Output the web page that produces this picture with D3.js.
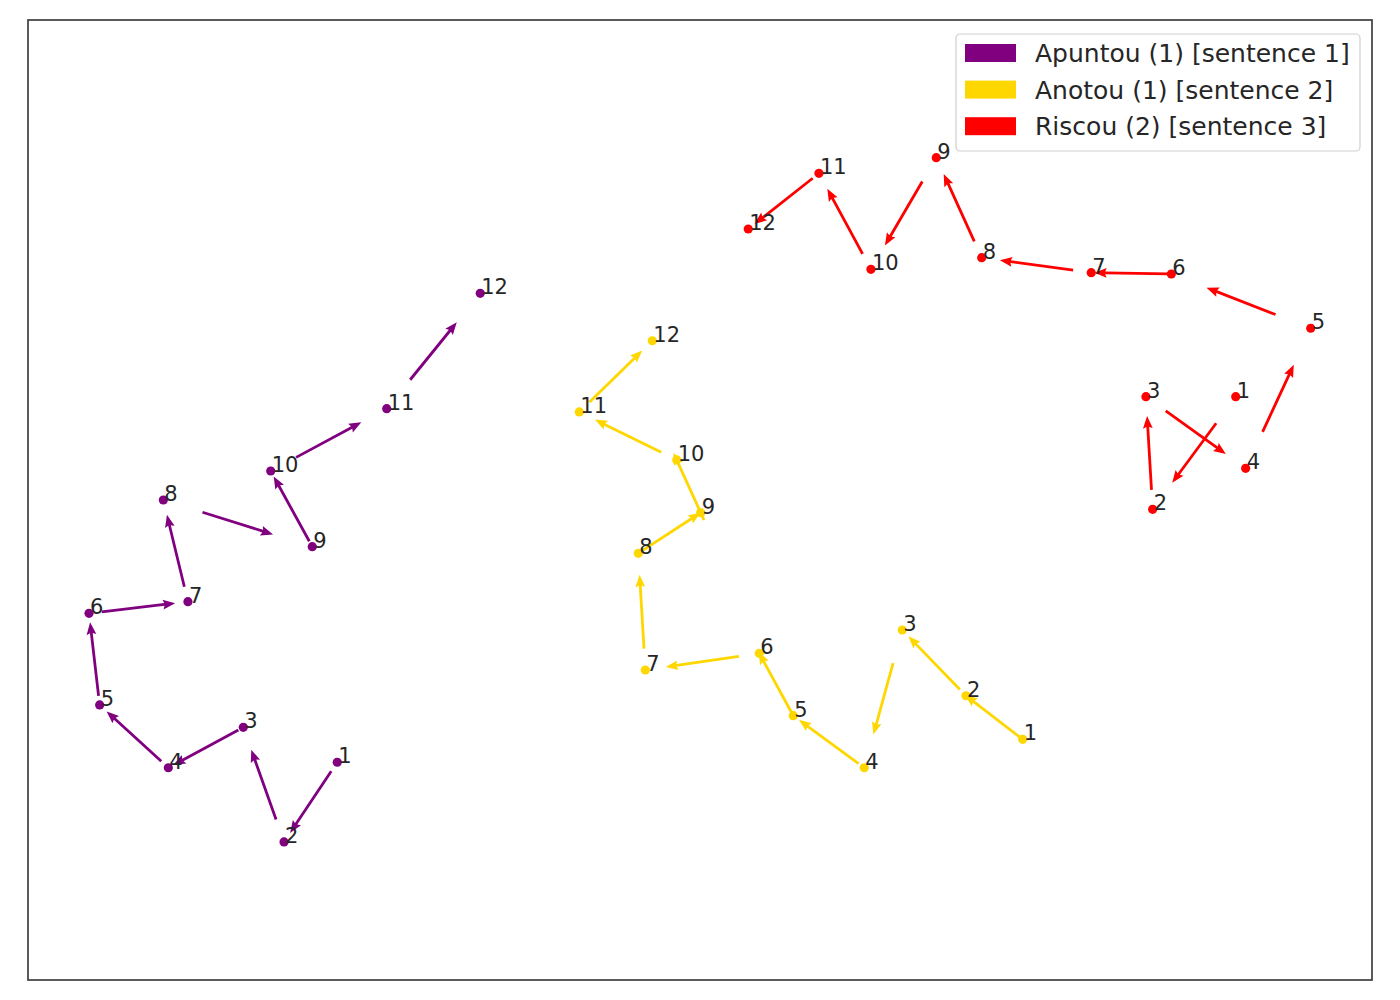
<!DOCTYPE html>
<html>
<head>
<meta charset="utf-8">
<script src="https://cdn.jsdelivr.net/npm/d3@7"></script>
<style>
  body { margin: 0; background: #fff; }
  svg { display: block; }
  text { font-family: "DejaVu Sans", sans-serif; fill: #262626; }
</style>
</head>
<body>
<svg id="chart" width="1400" height="1000"></svg>
<script>
// Series (x, y in projection units, points in word order 1..12)
const seriesNames = ['Apuntou (1) [sentence 1]', 'Anotou (1) [sentence 2]', 'Riscou (2) [sentence 3]'];
const seriesColors = ['purple', 'gold', 'red'];

const apuntouX = [23.01, 19.05, 16.02, 10.44, 5.33, 4.54, 11.90, 10.07, 21.15, 18.06, 26.69, 33.65];
const apuntouY = [22.68, 14.38, 26.32, 22.11, 28.65, 38.20, 39.41, 50.00, 45.14, 53.02, 59.51, 71.53];

const anotouX = [74.01, 69.79, 65.05, 62.22, 56.94, 54.41, 45.93, 45.41, 50.05, 48.27, 41.02, 46.45];
const anotouY = [25.07, 29.61, 36.46, 22.11, 27.53, 34.03, 32.29, 44.45, 48.68, 54.17, 59.17, 66.59];

const riscouX = [89.86, 83.68, 83.18, 90.60, 95.44, 85.07, 79.11, 70.96, 67.58, 62.72, 58.85, 53.59];
const riscouY = [60.76, 49.03, 60.76, 53.30, 67.89, 73.54, 73.68, 75.24, 85.66, 74.03, 84.03, 78.23];

const seriesX = [apuntouX, anotouX, riscouX];
const seriesY = [apuntouY, anotouY, riscouY];

const svg = d3.select('#chart');
const margin = { left: 28, top: 20, right: 28, bottom: 20 };
const width = 1400 - margin.left - margin.right;
const height = 1000 - margin.top - margin.bottom;

const x = d3.scaleLinear().domain([0, 100]).range([0, width]);
const y = d3.scaleLinear().domain([0, 100]).range([height, 0]);

const g = svg.append('g').attr('transform', `translate(${margin.left},${margin.top})`);

// quiver-style arrow, fixed length, centred on the segment midpoint
const arrowLen = 74, shaftW = 2.8;
const arrowPath = (() => {
    const L = arrowLen, w = shaftW;
    const hl = 4.4 * w, hal = 3.9 * w, hw = 3.5 * w;
    const x0 = -L / 2, x1 = L / 2;
    return `M${x0},${-w / 2}L${x1 - hal},${-w / 2}L${x1 - hl},${-hw / 2}L${x1},0` +
        `L${x1 - hl},${hw / 2}L${x1 - hal},${w / 2}L${x0},${w / 2}Z`;
})();

seriesX.forEach((xs, si) => {
    const pts = xs.map((v, i) => ({ x: v, y: seriesY[si][i], n: i + 1 }));
    const color = seriesColors[si];
    const sg = g.append('g').attr('class', 'series');

    const segs = d3.pairs(pts);
    sg.selectAll('.arrow')
        .data(segs)
        .enter()
        .append('path')
        .attr('class', 'arrow')
        .attr('d', arrowPath)
        .attr('fill', color)
        .attr('transform', ([a, b]) => {
            const ax = x(a.x), ay = y(a.y), bx = x(b.x), by = y(b.y);
            const ang = Math.atan2(by - ay, bx - ax) * 180 / Math.PI;
            return `translate(${(ax + bx) / 2},${(ay + by) / 2}) rotate(${ang})`;
        });

    sg.selectAll('.dot')
        .data(pts)
        .enter()
        .append('circle')
        .attr('class', 'dot')
        .attr('cx', d => x(d.x))
        .attr('cy', d => y(d.y))
        .attr('r', 4.6)
        .attr('fill', color);

    sg.selectAll('.num')
        .data(pts)
        .enter()
        .append('text')
        .attr('class', 'num')
        .attr('x', d => x(d.x) + 1)
        .attr('y', d => y(d.y) + 1)
        .style('font-size', '21px')
        .text(d => d.n);
});

// frame
g.append('rect')
    .attr('width', width)
    .attr('height', height)
    .attr('fill', 'none')
    .attr('stroke', '#3f3f3f')
    .attr('stroke-width', 1.7);

// legend
const legend = svg.append('g').attr('transform', 'translate(956,34)');
legend.append('rect')
    .attr('width', 404)
    .attr('height', 117)
    .attr('rx', 4)
    .attr('fill', 'rgba(255,255,255,0.8)')
    .attr('stroke', '#d0d0d0')
    .attr('stroke-width', 1.2);

const rows = legend.selectAll('.row')
    .data(seriesNames)
    .enter()
    .append('g')
    .attr('class', 'row')
    .attr('transform', (d, i) => `translate(0,${10 + i * 36.6})`);

rows.append('rect')
    .attr('x', 9)
    .attr('width', 51)
    .attr('height', 18)
    .attr('fill', (d, i) => seriesColors[i]);

rows.append('text')
    .attr('x', 79)
    .attr('y', 18)
    .style('font-size', '25px')
    .text(d => d);
</script>
</body>
</html>
